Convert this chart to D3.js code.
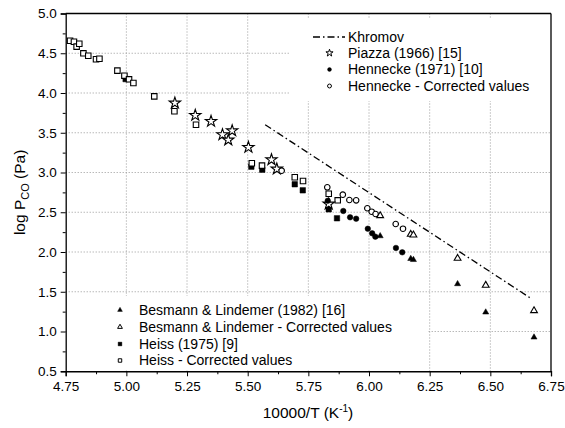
<!DOCTYPE html>
<html><head><meta charset="utf-8">
<script src="https://cdn.jsdelivr.net/npm/d3@7"></script>
<style>body{margin:0;background:#fff}svg{display:block}text{font-family:"Liberation Sans",Arial,sans-serif;fill:#000}</style>
</head><body><svg id="c" width="565" height="428"></svg>
<script>
// Data
const xTicks = [4.75,5.00,5.25,5.50,5.75,6.00,6.25,6.50,6.75];
const yTicks = [0.5,1.0,1.5,2.0,2.5,3.0,3.5,4.0,4.5,5.0];
const khromovX = [5.572, 6.671];
const khromovY = [3.601, 1.409];
const piazzaX = [5.200,5.284,5.349,5.396,5.420,5.436,5.503,5.598,5.620,5.834];
const piazzaY = [3.874,3.719,3.644,3.476,3.409,3.526,3.317,3.161,3.044,2.604];
const henneckeX = [5.830,5.894,5.922,5.947,5.995,6.013,6.026,6.111,6.137];
const henneckeY = [2.645,2.516,2.436,2.419,2.293,2.235,2.193,2.051,1.996];
const henneckeCorrX = [5.640,5.828,5.892,5.919,5.947,5.993,6.011,6.027,6.110,6.140];
const henneckeCorrY = [3.023,2.814,2.721,2.654,2.650,2.550,2.507,2.478,2.352,2.293];
const besmannX = [6.046,6.172,6.183,6.365,6.481,6.680];
const besmannY = [2.201,1.915,1.902,1.598,1.242,0.927];
const besmannCorrX = [6.046,6.172,6.183,6.365,6.481,6.680];
const besmannCorrY = [2.457,2.222,2.214,1.920,1.581,1.262];
const heissX = [4.997,5.515,5.560,5.694,5.727,5.834,5.868];
const heissY = [4.175,3.073,3.035,2.852,2.776,2.537,2.424];
const heissCorrX = [4.768,4.784,4.795,4.806,4.823,4.843,4.875,4.889,4.963,4.992,5.011,5.029,5.115,5.198,5.287,5.517,5.559,5.694,5.728,5.834,5.871];
const heissCorrY = [4.658,4.645,4.583,4.620,4.499,4.469,4.424,4.431,4.281,4.218,4.172,4.126,3.958,3.770,3.601,3.116,3.086,2.940,2.893,2.733,2.650];

const svg = d3.select("#c");
const L=65.7,R=551,T=13.5,B=371.25;
const x = d3.scaleLinear().domain([4.75,6.75]).range([L,R]);
const y = d3.scaleLinear().domain([0.5,5.0]).range([B,T]);

// grid
const g = svg.append("g");
g.selectAll(".vg").data(xTicks.slice(1,-1)).join("line")
 .attr("x1",d=>x(d)).attr("x2",d=>x(d)).attr("y1",T).attr("y2",B)
 .attr("stroke","#999").attr("stroke-dasharray","1,2");
g.selectAll(".hg").data(yTicks.slice(1,-1)).join("line")
 .attr("y1",d=>y(d)).attr("y2",d=>y(d)).attr("x1",L).attr("x2",R)
 .attr("stroke","#999").attr("stroke-dasharray","1,2");

// legend backgrounds
svg.append("rect").attr("x",290).attr("y",19).attr("width",R-290-1).attr("height",82).attr("fill","#fff");
svg.append("rect").attr("x",L+1).attr("y",296).attr("width",428-L-1).attr("height",B-296-1).attr("fill","#fff");

// axes
const xAxis = d3.axisBottom(x).tickValues(xTicks).tickFormat(d3.format(".2f")).tickSize(5).tickPadding(5);
const ax = svg.append("g").attr("transform",`translate(0,${B})`).call(xAxis);
ax.selectAll("text").attr("font-size",13.5);
const xMinor = d3.range(0,8).map(i=>4.875+i*0.25);
svg.append("g").attr("transform",`translate(0,${B})`).call(d3.axisBottom(x).tickValues(xMinor).tickSize(3).tickFormat("")).select(".domain").remove();
const yAxis = d3.axisLeft(y).tickValues(yTicks).tickFormat(d3.format(".1f")).tickSize(5).tickPadding(4);
const ay = svg.append("g").attr("transform",`translate(${L},0)`).call(yAxis);
ay.selectAll("text").attr("font-size",13.5);
const yMinor = d3.range(0,9).map(i=>0.75+i*0.5);
svg.append("g").attr("transform",`translate(${L},0)`).call(d3.axisLeft(y).tickValues(yMinor).tickSize(3).tickFormat("")).select(".domain").remove();
svg.selectAll(".domain").attr("stroke","#000").attr("stroke-width",1.3);
svg.append("line").attr("x1",L).attr("x2",R).attr("y1",T).attr("y2",T).attr("stroke","#000").attr("stroke-width",1.3);
svg.append("line").attr("x1",R).attr("x2",R).attr("y1",T).attr("y2",B).attr("stroke","#000").attr("stroke-width",1.3);

// titles
const yt = svg.append("text").attr("transform",`translate(25,${(T+B)/2}) rotate(-90)`).attr("text-anchor","middle").attr("font-size",15.5);
yt.append("tspan").text("log P");
yt.append("tspan").attr("font-size",11).attr("dy",4).text("CO");
yt.append("tspan").attr("dy",-4).text(" (Pa)");
const xt = svg.append("text").attr("x",308).attr("y",418).attr("text-anchor","middle").attr("font-size",15.5);
xt.append("tspan").text("10000/T (K");
xt.append("tspan").attr("font-size",10).attr("dy",-6).text("-1");
xt.append("tspan").attr("dy",6).text(")");

// Khromov line
svg.append("path").datum(d3.zip(khromovX,khromovY))
 .attr("d",d3.line().x(d=>x(d[0])).y(d=>y(d[1])))
 .attr("fill","none").attr("stroke","#000").attr("stroke-width",1.3).attr("stroke-dasharray","7,3,1.5,3");

function pts(xs,ys,type,size,filled){
  const sym = d3.symbol().type(type).size(size);
  svg.append("g").selectAll("path").data(d3.zip(xs,ys)).join("path")
   .attr("transform",d=>`translate(${x(d[0])},${y(d[1])})`)
   .attr("d",sym).attr("fill",filled?"#000":"#fff").attr("stroke","#000").attr("stroke-width",filled?0.5:1.1);
}
pts(heissX,heissY,d3.symbolSquare,30,true);
pts(heissCorrX,heissCorrY,d3.symbolSquare,30,false);
pts(piazzaX,piazzaY,d3.symbolStar,40,false);
pts(henneckeX,henneckeY,d3.symbolCircle,24,true);
pts(henneckeCorrX,henneckeCorrY,d3.symbolCircle,24,false);
pts(besmannX,besmannY,d3.symbolTriangle,16,true);
pts(besmannCorrX,besmannCorrY,d3.symbolTriangle,20,false);

// legends
function legSym(cx,cy,type,size,filled){
  svg.append("path").attr("transform",`translate(${cx},${cy})`).attr("d",d3.symbol().type(type).size(size)())
   .attr("fill",filled?"#000":"#fff").attr("stroke","#000").attr("stroke-width",filled?0.4:1);
}
function legText(tx,ty,s){svg.append("text").attr("x",tx).attr("y",ty).attr("dy","0.35em").attr("font-size",14).text(s);}
svg.append("line").attr("x1",313).attr("x2",345).attr("y1",37).attr("y2",37).attr("stroke","#000").attr("stroke-width",1.3).attr("stroke-dasharray","7,3,1.5,3");
legText(348,37,"Khromov");
legSym(329.5,53,d3.symbolStar,16,false); legText(348,53,"Piazza (1966) [15]");
legSym(329.5,69.5,d3.symbolCircle,12,true); legText(348,69.5,"Hennecke (1971) [10]");
legSym(329.5,86,d3.symbolCircle,12,false); legText(348,86,"Hennecke - Corrected values");
legSym(120,310,d3.symbolTriangle,10,true); legText(139,310,"Besmann & Lindemer (1982) [16]");
legSym(120,327,d3.symbolTriangle,10,false); legText(139,327,"Besmann & Lindemer - Corrected values");
legSym(120,344,d3.symbolSquare,14,true); legText(139,344,"Heiss (1975) [9]");
legSym(120,360.5,d3.symbolSquare,12,false); legText(139,360.5,"Heiss - Corrected values");
</script></body></html>
